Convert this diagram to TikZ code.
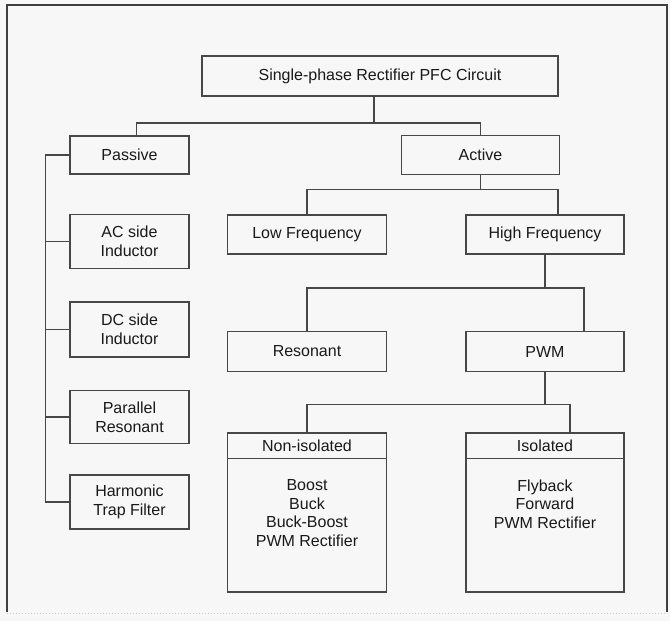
\documentclass[tikz,border=0pt]{standalone}
\usepackage{fontspec}
\setmainfont{Liberation Sans}
\usetikzlibrary{positioning}

\begin{document}
\begin{tikzpicture}[x=1pt, y=-1pt,
  box/.style={rectangle, draw=black!72, line width=1.5pt, align=center, inner sep=0pt, text=black!90, font=\fontsize{16}{19}\selectfont},
  head/.style={rectangle, inner sep=0pt, minimum height=26pt, anchor=north, text=black!90, font=\fontsize{16}{19}\selectfont},
  body/.style={align=center, inner sep=0pt, text=black!90, font=\fontsize{16}{18.4}\selectfont},
  wire/.style={draw=black!72, line width=1.5pt}]
\useasboundingbox (0,0) rectangle (670,621);
\fill[black!3] (0,0) rectangle (670,621);
\draw[black!75, line width=1.6pt] (7,612) -- (7,5) -- (667,5) -- (667,612);
\draw[black!20, line width=1pt, dotted] (7,613) -- (667,613);

  \node[box, minimum width=356pt, minimum height=40pt] (title) at (380,76) {Single-phase Rectifier PFC Circuit};
\node[box, minimum width=119pt, minimum height=38pt] (passive) at (129.5,155) {Passive};
\node[box, minimum width=158pt, minimum height=39pt, right=211pt of passive] (active) {Active};
\node[box, minimum width=119pt, minimum height=54pt, below=39pt of passive] (acside) {AC side\\Inductor};
\node[box, minimum width=119pt, minimum height=55pt, below=32pt of acside] (dcside) {DC side\\Inductor};
\node[box, minimum width=119pt, minimum height=53pt, below=32pt of dcside] (parallel) {Parallel\\Resonant};
\node[box, minimum width=119pt, minimum height=54pt, below=30pt of parallel] (harmonic) {Harmonic\\Trap Filter};
\node[box, minimum width=159pt, minimum height=39pt] (lowfreq) at (307,234.5) {Low Frequency};
\node[box, minimum width=158pt, minimum height=39pt, right=78pt of lowfreq] (highfreq) {High Frequency};
\node[box, minimum width=159pt, minimum height=40pt, below=76pt of lowfreq] (resonant) {Resonant};
\node[box, minimum width=158pt, minimum height=40pt, below=76pt of highfreq] (pwm) {PWM};
\node[box, minimum width=159pt, minimum height=159pt, below=60pt of resonant] (noniso) {};
\node[box, minimum width=158pt, minimum height=159pt, below=60pt of pwm] (iso) {};
\node[head, minimum width=159pt] (nonisohead) at (noniso.north) {Non-isolated};
\node[head, minimum width=158pt] (isohead) at (iso.north) {Isolated};
\node[body, below=21pt of nonisohead.south] (nonisolist) {Boost\\Buck\\Buck-Boost\\PWM Rectifier};
\node[body, below=21pt of isohead.south] (isolist) {Flyback\\Forward\\PWM Rectifier};
\draw[wire] (nonisohead.south west) -- (nonisohead.south east);
\draw[wire] (isohead.south west) -- (isohead.south east);

\draw[wire] ([xshift=-6pt]title.south) -- ++(0,26) coordinate (split1);
\draw[wire] ([xshift=7pt]passive.north) |- (split1) -| (active.north);
\draw[wire] (active.south) -- ++(0,14) coordinate (split2);
\draw[wire] (lowfreq.north) |- (split2) -| ([xshift=13pt]highfreq.north);
\draw[wire] (highfreq.south) -- ++(0,33) coordinate (split3);
\draw[wire] (resonant.north) |- (split3) -| ([xshift=39pt]pwm.north);
\draw[wire] (pwm.south) -- ++(0,32) coordinate (split4);
\draw[wire] (noniso.north) |- (split4) -| ([xshift=25pt]iso.north);
\draw[wire] (passive.west) -- ++(-24,0) coordinate (spine);
\foreach \n in {acside,dcside,parallel,harmonic}
  \draw[wire] (spine) |- (\n.west);
\end{tikzpicture}
\end{document}
